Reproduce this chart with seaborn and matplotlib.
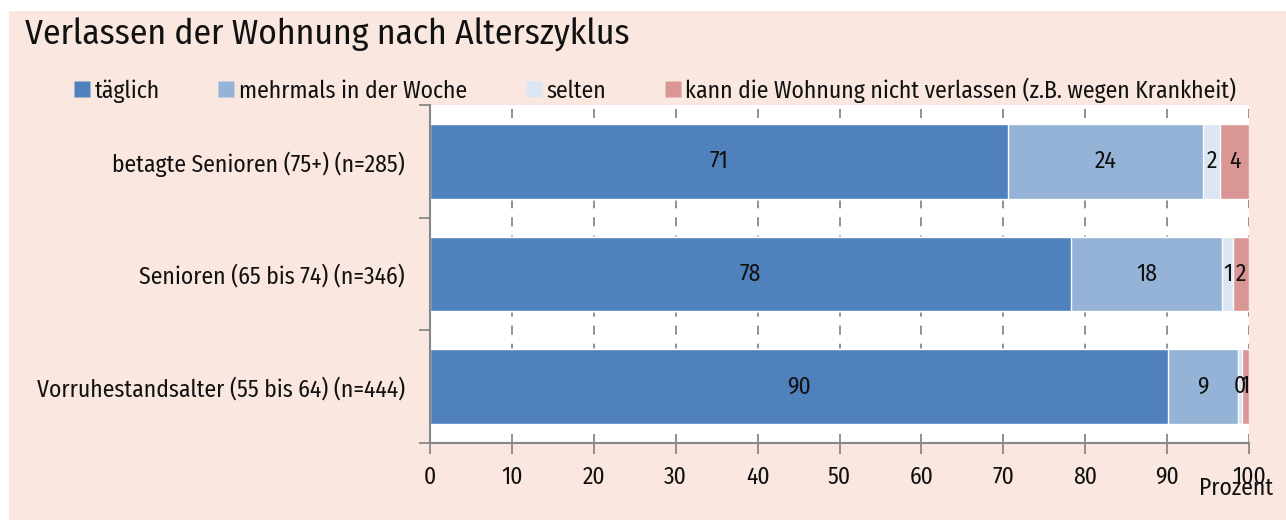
import numpy as np
import pandas as pd
import matplotlib
matplotlib.use("Agg")
import matplotlib.pyplot as plt
from matplotlib.lines import Line2D
import seaborn as sns

# data
categories = ['betagte Senioren (75+) (n=285)', 'Senioren (65 bis 74) (n=346)',
              'Vorruhestandsalter (55 bis 64) (n=444)']
series = ['täglich', 'mehrmals in der Woche', 'selten',
          'kann die Wohnung nicht verlassen (z.B. wegen Krankheit)']
taeglich = [70.6, 78.3, 90.1]
mehrmals = [23.8, 18.4, 8.6]
selten = [2.1, 1.4, 0.4]
kann_nicht = [3.5, 1.9, 0.9]
x_ticks = [0, 10, 20, 30, 40, 50, 60, 70, 80, 90, 100]
colors = ['#4f81bd', '#95b3d7', '#dce6f2', '#d99694']
bg = '#f9e7e0'

sns.set_style('white')
plt.rcParams['font.family'] = ['Fira Sans Condensed', 'Fira Sans Extra Condensed',
                               'Barlow Condensed', 'Asap Condensed', 'DejaVu Sans']
plt.rcParams['text.color'] = '#111111'
plt.rcParams['xtick.labelcolor'] = '#111111'
plt.rcParams['ytick.labelcolor'] = '#111111'

fs = 17

df = pd.DataFrame({'cat': categories, series[0]: taeglich, series[1]: mehrmals,
                   series[2]: selten, series[3]: kann_nicht})
vals = df[series].values
cum = vals.cumsum(axis=1)

fig = plt.figure(figsize=(12.86, 5.2), dpi=100)
fig.patch.set_facecolor('white')
fig.patches.append(plt.Rectangle((9 / 1286, 0), 1, 1 - 11 / 520, transform=fig.transFigure,
                                 facecolor=bg, edgecolor='none', zorder=-10))
ax = fig.add_axes([430 / 1286, 1 - 443 / 520, 819 / 1286, 338 / 520])
ax.set_facecolor('white')

# stacked bars: draw cumulative totals from the longest to the shortest
for i in range(3, -1, -1):
    tmp = pd.DataFrame({'cat': categories, 'v': cum[:, i]})
    sns.barplot(data=tmp, x='v', y='cat', orient='h', color=colors[i], width=0.66,
                saturation=1, ax=ax, zorder=2)

for r in range(len(categories)):
    for i in range(4):
        ax.text(cum[r, i] - vals[r, i] / 2, r, f'{round(vals[r, i]):.0f}',
                ha='center', va='center', fontsize=fs, zorder=3)

ax.set_xlim(0, 100)
ax.set_ylim(2.5, -0.5)
ax.set_xticks(x_ticks)
ax.set_xticklabels([str(t) for t in x_ticks], fontsize=fs)
ax.set_yticks(range(len(categories)))
ax.set_yticklabels(categories, fontsize=fs)
ax.set_yticks([-0.5, 0.5, 1.5, 2.5], minor=True)
ax.tick_params(axis='y', which='major', length=0, pad=18)
ax.tick_params(axis='y', which='minor', length=8, color='#888888', width=1.3, direction='out', left=True)
ax.tick_params(axis='x', length=8, color='#888888', width=1.3, direction='out', bottom=True, pad=8)
ax.set_xlabel('')
ax.set_ylabel('')
ax.xaxis.grid(True, linestyle=(0, (5, 5)), color='#888888', linewidth=1.3, zorder=0)
ax.set_axisbelow(True)
for s in ['top', 'right']:
    ax.spines[s].set_visible(False)
for s in ['left', 'bottom']:
    ax.spines[s].set_color('#888888')
    ax.spines[s].set_linewidth(1.5)

fig.text(25 / 1286, 1 - 35 / 520, 'Verlassen der Wohnung nach Alterszyklus',
         fontsize=25.5, ha='left', va='center')
fig.text(1273 / 1286, 1 - 488 / 520, 'Prozent', fontsize=fs, ha='right', va='center')

handles = [Line2D([], [], marker='s', linestyle='none', markersize=11,
                  markerfacecolor=c, markeredgecolor='none') for c in colors]
fig.legend(handles, series, loc='center left', bbox_to_anchor=(75 / 1286, 1 - 90 / 520),
           ncol=4, frameon=False, fontsize=fs, handlelength=0.6, handletextpad=0.25,
           columnspacing=2.5, borderaxespad=0, borderpad=0)

fig.savefig('out.png', dpi=100, facecolor=fig.get_facecolor())
